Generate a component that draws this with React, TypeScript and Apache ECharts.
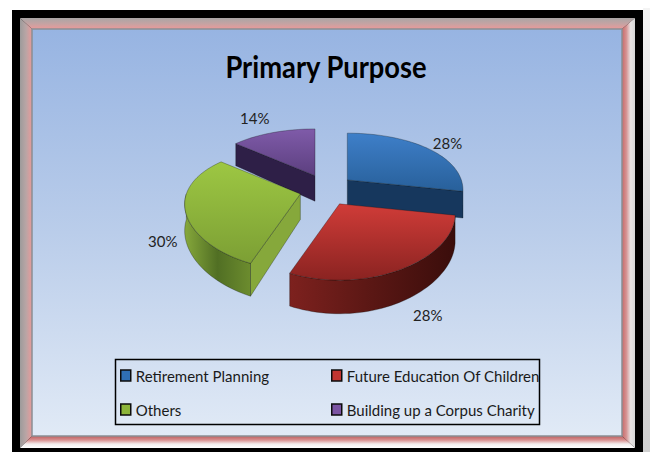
import React, { useEffect, useRef } from "react";
import * as echarts from "echarts";

const chartTitle = "Primary Purpose";
const categories = ["Retirement Planning", "Future Education Of Children", "Others", "Building up a Corpus Charity"];
const shares = [28, 28, 30, 14];
const shareLabels = ["28%", "28%", "30%", "14%"];

// Slice looks, same order as the categories
const legendColors = ["#2F6FB5", "#C23531", "#8DB53A", "#7B54A3"];
const topStops = [
  ["#3E7FC9", "#28609A"],
  ["#D03C38", "#8A2321"],
  ["#9DC743", "#7C9F34"],
  ["#7F5BA9", "#5C3F7F"],
];
const wallColors = ["#16375D", "#5A1714", "#86A83B", "#2E1F47"];
const rimStops = [
  ["#16375D", "#16375D"],
  ["#7D211E", "#5A1714", "#3A0D0B"],
  ["#86A83B", "#516F24", "#6C8C2E"],
  ["#2E1F47", "#2E1F47"],
];
const drawOrder = [3, 0, 2, 1];
const labelNudge = [[7, 1], [8, -5], [2, 1], [-11, -8]];
const legendSlots = [
  { left: 120, top: 368 },
  { left: 331, top: 368 },
  { left: 120, top: 402 },
  { left: 331, top: 402 },
];

// Projection of the tilted pie
const CX = 326.5, CY = 190, RX = 114, RY = 58, PERSP_X = 0.17, PERSP_Y = 0.24, DEPTH = 25.5, EXPL_X = 27, EXPL_Y = 15.8;
const RIM_FROM = 102, RIM_TO = 270;
const rad = (d: number) => (d * Math.PI) / 180;
const total = shares.reduce((a, b) => a + b, 0);

function spans() {
  let acc = 0;
  return shares.map((v) => {
    const a = (acc / total) * 360;
    acc += v;
    return [a, (acc / total) * 360];
  });
}

function project(ax: number, ay: number, deg: number, r = 1, drop = 0) {
  const u = r * Math.sin(rad(deg));
  const v = -r * Math.cos(rad(deg));
  const sx = 1 / (1 - PERSP_X * v);
  const sy = 1 / (1 - PERSP_Y * v);
  return [ax + RX * u * sx, ay + RY * v * sy + drop * DEPTH * sy];
}

function arc(ax: number, ay: number, a: number, b: number, drop: number) {
  const pts: number[][] = [];
  const n = Math.max(2, Math.ceil(Math.abs(b - a) / 2));
  for (let i = 0; i <= n; i++) pts.push(project(ax, ay, a + ((b - a) * i) / n, 1, drop));
  return pts;
}

const edge = { stroke: "rgba(10,15,10,0.42)", lineWidth: 0.7 };
const grad = (stops: string[], horizontal: boolean) =>
  new echarts.graphic.LinearGradient(0, 0, horizontal ? 1 : 0, horizontal ? 0 : 1,
    stops.map((color, i) => ({ offset: i / (stops.length - 1), color })));

function sliceItem(index: number, value: number) {
  const [a, b] = spans()[index];
  const mid = (a + b) / 2;
  const ax = CX + EXPL_X * Math.sin(rad(mid));
  const ay = CY - EXPL_Y * Math.cos(rad(mid));
  const children: any[] = [];
  const wall = (deg: number) => {
    const p = project(ax, ay, deg);
    const q = project(ax, ay, deg, 1, 1);
    const s = project(ax, ay, deg, 0, 1);
    children.push({
      type: "polygon",
      shape: { points: [[ax, ay], p, q, s] },
      style: { fill: wallColors[index], ...edge },
    });
  };
  if (Math.sin(rad(a)) < -1e-6) wall(a);
  if (Math.sin(rad(b)) > 1e-6) wall(b);
  const r0 = Math.max(a, RIM_FROM), r1 = Math.min(b, RIM_TO);
  if (r1 > r0) {
    const pts = arc(ax, ay, r0, r1, 0).concat(arc(ax, ay, r1, r0, 1));
    children.push({
      type: "polygon",
      shape: { points: pts },
      style: { fill: grad(rimStops[index], true), ...edge },
    });
  }
  const top = [[ax, ay], ...arc(ax, ay, a, b, 0)];
  children.push({
    type: "polygon",
    shape: { points: top },
    style: { fill: grad(topStops[index], false), ...edge },
  });
  const lp = project(ax, ay, mid, 1.2, Math.cos(rad(mid)) < 0.2 ? 1 : 0);
  children.push({
    type: "text",
    style: {
      text: shareLabels[index],
      x: lp[0] + labelNudge[index][0],
      y: lp[1] + labelNudge[index][1],
      fill: "#222",
      font: "15px Lato",
      align: "center",
      verticalAlign: "middle",
    },
  });
  return { type: "group", children };
}

function frameGraphics() {
  const g = (x0: number, y0: number, x1: number, y1: number, stops: string[]) =>
    new echarts.graphic.LinearGradient(x0, y0, x1, y1,
      stops.map((color, i) => ({ offset: i / (stops.length - 1), color })));
  const pL = 32, pT = 29, pR = 622, pB = 436; // panel
  const iL = 20, iT = 18, iR = 635, iB = 448; // inside of the black frame
  return [
    { type: "rect", shape: { x: 0, y: 0, width: 650, height: 452 }, style: { fill: "#fff" }, silent: true },
    { type: "rect", shape: { x: 643, y: 8, width: 7, height: 444 },
      style: { fill: g(0, 0, 0, 1, ["#f4f4f4", "#dadada", "#cfcfcf"]) }, silent: true },
    { type: "rect", shape: { x: 12, y: 10, width: 631, height: 442 }, style: { fill: "#000" }, silent: true },
    { type: "polygon", shape: { points: [[iL, iT], [iR, iT], [pR, pT], [pL, pT]] },
      style: { fill: g(0, 0, 0, 1, ["#a9a6a6", "#c4a3a3", "#ea9a9a"]) }, silent: true },
    { type: "polygon", shape: { points: [[iL, iT], [pL, pT], [pL, pB], [iL, iB]] },
      style: { fill: g(0, 0, 1, 0, ["#9d9b9b", "#b9a5a5", "#e89a9a"]) }, silent: true },
    { type: "polygon", shape: { points: [[iR, iT], [iR, iB], [pR, pB], [pR, pT]] },
      style: { fill: g(0, 0, 1, 0, ["#c66a6a", "#d69292", "#e8e4e4", "#d6d6d6"]) }, silent: true },
    { type: "polygon", shape: { points: [[iL, iB], [pL, pB], [pR, pB], [iR, iB]] },
      style: { fill: g(0, 0, 0, 1, ["#bd5f5f", "#d88f8f", "#f2eded", "#ffffff"]) }, silent: true },
    { type: "rect", shape: { x: pL, y: pT, width: pR - pL, height: pB - pT },
      style: { fill: g(0, 0, 0, 1, ["#97B4E2", "#BACDEA", "#E1EAF6"]), stroke: "#8b8f94", lineWidth: 1.5 }, silent: true },
    { type: "rect", shape: { x: 115.5, y: 359.5, width: 424, height: 65 },
      style: { fill: "transparent", stroke: "#000", lineWidth: 1.5 }, silent: true, z: 5 },
    { type: "text", x: 326, y: 66, scaleX: 0.91, z: 6, silent: true,
      style: { text: chartTitle, x: 0, y: 0, fill: "#000", font: "bold 30px Lato", align: "center", verticalAlign: "middle" } },
  ];
}

export default function App() {
  const ref = useRef<HTMLDivElement>(null);
  useEffect(() => {
    if (!ref.current) return;
    document.body.style.margin = "0";
    const chart = echarts.init(ref.current, undefined, { renderer: "svg" });
    chart.setOption({
      animation: false,
      legend: categories.map((name, i) => ({
        data: [name],
        left: legendSlots[i].left,
        top: legendSlots[i].top,
        padding: 0,
        icon: "rect",
        itemWidth: 10,
        itemHeight: 11,
        selectedMode: false,
        itemStyle: { color: legendColors[i], borderColor: "#0c0c0c", borderWidth: 1.5 },
        textStyle: { fontFamily: "Lato", fontSize: 15, color: "#1a1a1a" },
      })),
      graphic: { elements: frameGraphics() },
      series: drawOrder.map((i, order) => ({
        type: "custom",
        name: categories[i],
        coordinateSystem: "none",
        z: 3 + order,
        itemStyle: { color: legendColors[i] },
        data: [[shares[i]]],
        renderItem: (_p: any, api: any) => sliceItem(i, api.value(0)),
      })),
    });
    return () => chart.dispose();
  }, []);
  return <div ref={ref} style={{ width: 650, height: 452 }} />;
}
